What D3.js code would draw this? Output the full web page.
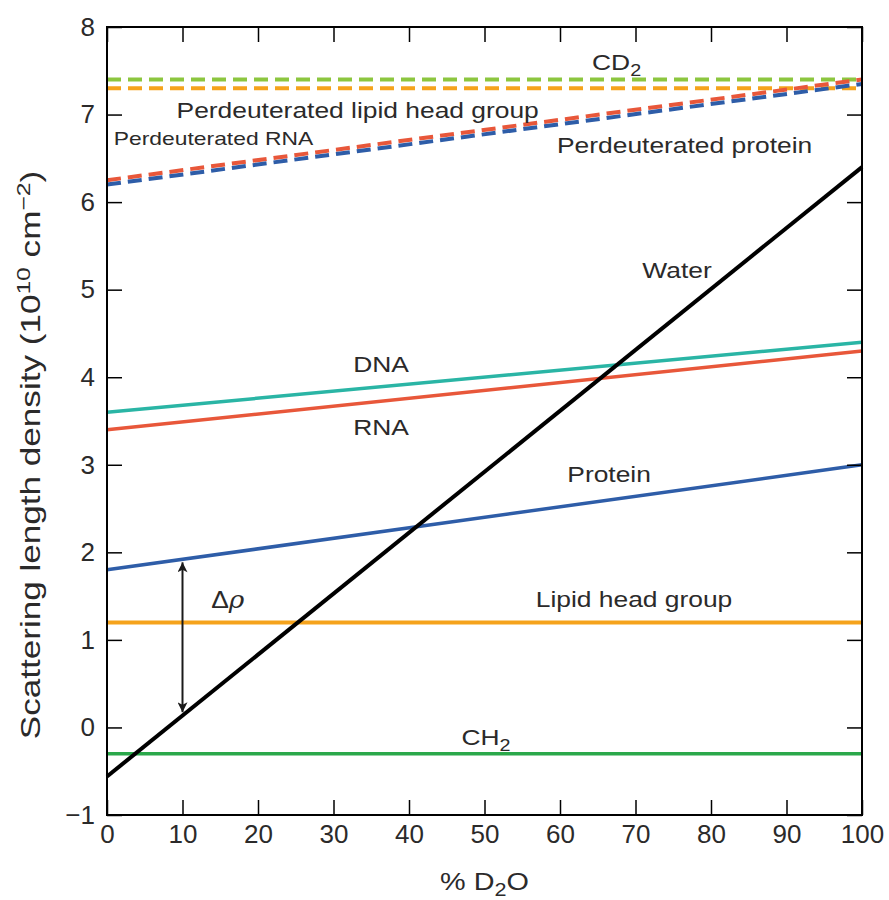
<!DOCTYPE html>
<html>
<head>
<meta charset="utf-8">
<script src="https://cdn.jsdelivr.net/npm/d3@7"></script>
<style>
  body { margin: 0; background: #fff; }
  svg text { font-family: "Liberation Sans", Arial, sans-serif; fill: #2b2a2a; }
  .tick text { font-family: "Liberation Sans Narrow", "Liberation Sans", Arial, sans-serif; }
</style>
</head>
<body>
<div id="chart"></div>
<script>
// x: % D2O, y: scattering length density (10^10 cm^-2) at 0% and 100%
var xEnds = [0, 100];
var water = [-0.56, 6.4];
var dna = [3.6, 4.4];
var rna = [3.4, 4.3];
var protein = [1.8, 3.0];
var lipidHead = [1.2, 1.2];
var ch2 = [-0.3, -0.3];
var cd2 = [7.4, 7.4];
var dLipidHead = [7.3, 7.3];
var dRna = [6.25, 7.4];
var dProtein = [6.2, 7.35];
var xTicks = [0, 10, 20, 30, 40, 50, 60, 70, 80, 90, 100];
var yTicks = [-1, 0, 1, 2, 3, 4, 5, 6, 7, 8];

var width = 889, height = 900;
var margin = { top: 27, right: 27, bottom: 85, left: 107 };
var w = width - margin.left - margin.right,
    h = height - margin.top - margin.bottom;

var svg = d3.select("#chart").append("svg")
    .attr("width", width).attr("height", height);
var g = svg.append("g")
    .attr("transform", "translate(" + margin.left + "," + margin.top + ")");

var x = d3.scaleLinear().domain([0, 100]).range([0, w]);
var y = d3.scaleLinear().domain([-1, 8]).range([h, 0]);

var series = [
    { v: dLipidHead, color: "#f5a31c", dash: "14,7", width: 4 },
    { v: cd2, color: "#8cc63f", dash: "14,7", width: 4 },
    { v: dRna, color: "#e8573a", dash: "14,7", width: 4 },
    { v: dProtein, color: "#2e5da8", dash: "14,7", width: 4 },
    { v: ch2, color: "#2aa84a", dash: null, width: 3.5 },
    { v: lipidHead, color: "#f5a31c", dash: null, width: 4 },
    { v: protein, color: "#2e5da8", dash: null, width: 3.5 },
    { v: rna, color: "#e8573a", dash: null, width: 3.5 },
    { v: dna, color: "#2ab5a5", dash: null, width: 3.5 },
    { v: water, color: "#000", dash: null, width: 4 }
];

var line = d3.line()
    .x(function (d, i) { return x(xEnds[i]); })
    .y(function (d) { return y(d); });

g.selectAll(".series")
    .data(series)
    .enter()
    .append("path")
    .attr("class", "series")
    .attr("d", function (d) { return line(d.v); })
    .attr("fill", "none")
    .attr("stroke", function (d) { return d.color; })
    .attr("stroke-width", function (d) { return d.width; })
    .attr("stroke-dasharray", function (d) { return d.dash; });

// axes with inward ticks
var tl = 15;
g.append("g").attr("transform", "translate(0," + h + ")")
    .call(d3.axisBottom(x).tickValues(xTicks).tickSizeInner(-tl).tickSizeOuter(0).tickPadding(10));
g.append("g")
    .call(d3.axisTop(x).tickValues(xTicks).tickSizeInner(-tl).tickSizeOuter(0).tickFormat(""));
g.append("g")
    .call(d3.axisLeft(y).tickValues(yTicks).tickSizeInner(-tl).tickSizeOuter(0).tickPadding(12)
        .tickFormat(function (d) { return d < 0 ? "\u2212" + Math.abs(d) : d; }));
g.append("g").attr("transform", "translate(" + w + ",0)")
    .call(d3.axisRight(y).tickValues(yTicks).tickSizeInner(-tl).tickSizeOuter(0).tickFormat(""));

g.selectAll(".domain").remove();
g.selectAll(".tick line").attr("stroke", "#000").attr("stroke-width", 1.5);
g.selectAll(".tick text").attr("font-size", 26).style("fill", "#2b2a2a");
g.append("rect").attr("width", w).attr("height", h)
    .attr("fill", "none").attr("stroke", "#000").attr("stroke-width", 2);

// delta rho arrow
var defs = svg.append("defs");
defs.append("marker").attr("id", "ah")
    .attr("viewBox", "0 0 10 10").attr("refX", 10).attr("refY", 5)
    .attr("markerWidth", 20).attr("markerHeight", 10).attr("orient", "auto-start-reverse")
    .attr("markerUnits", "userSpaceOnUse")
    .append("path").attr("d", "M0,0 L10,5 L0,10 L2.5,5 Z").attr("fill", "#1a1a1a");

var ax = 10;
g.append("line")
    .attr("x1", x(ax)).attr("x2", x(ax))
    .attr("y1", y(1.92) + 3).attr("y2", y(0.14) - 3)
    .attr("stroke", "#1a1a1a").attr("stroke-width", 2)
    .attr("marker-start", "url(#ah)").attr("marker-end", "url(#ah)");

// labels (font is wider than Arial, so stretch horizontally)
function label(tx, ty, parts, size, anchor, stretch) {
    size = size || 22;
    var t = g.append("text")
        .attr("transform", "translate(" + x(tx) + "," + y(ty) + ") scale(" + (stretch || 1.2) + ",1)")
        .attr("font-size", size).attr("text-anchor", anchor || "middle");
    parts.forEach(function (p) {
        var s = t.append("tspan").text(p.t);
        if (p.sub) s.attr("dy", 6).attr("font-size", size * 0.75);
        if (p.it) s.attr("font-style", "italic").attr("font-family", "DejaVu Serif, serif");
    });
    return t;
}
label(67.5, 7.51, [{ t: "CD" }, { t: "2", sub: true }]);
label(33.2, 6.96, [{ t: "Perdeuterated lipid head group" }]);
label(0.9, 6.652, [{ t: "Perdeuterated RNA" }], 18, "start", 1.27);
label(76.5, 6.56, [{ t: "Perdeuterated protein" }]);
label(75.5, 5.134, [{ t: "Water" }]);
label(36.3, 4.06, [{ t: "DNA" }]);
label(36.3, 3.34, [{ t: "RNA" }]);
label(66.5, 2.80, [{ t: "Protein" }]);
label(69.8, 1.37, [{ t: "Lipid head group" }]);
label(50.2, -0.2, [{ t: "CH" }, { t: "2", sub: true }]);
label(16, 1.365, [{ t: "\u0394" }, { t: "\u03c1", it: true }], 24, "middle", 1.1);

// axis titles
var xt = svg.append("text")
    .attr("transform", "translate(" + (margin.left + w / 2) + ",890) scale(1.2,1)")
    .attr("text-anchor", "middle").attr("font-size", 24);
xt.append("tspan").text("% D");
xt.append("tspan").text("2").attr("dy", 6).attr("font-size", 18);
xt.append("tspan").text("O").attr("dy", -6);

var yt = svg.append("text")
    .attr("transform", "translate(40,455) rotate(-90) scale(1.3,1)")
    .attr("text-anchor", "middle").attr("font-size", 27);
yt.append("tspan").text("Scattering length density (10");
yt.append("tspan").text("10").attr("dy", -10).attr("font-size", 19);
yt.append("tspan").text(" cm").attr("dy", 10);
yt.append("tspan").text("\u22122").attr("dy", -10).attr("font-size", 19);
yt.append("tspan").text(")").attr("dy", 10);
</script>
</body>
</html>
